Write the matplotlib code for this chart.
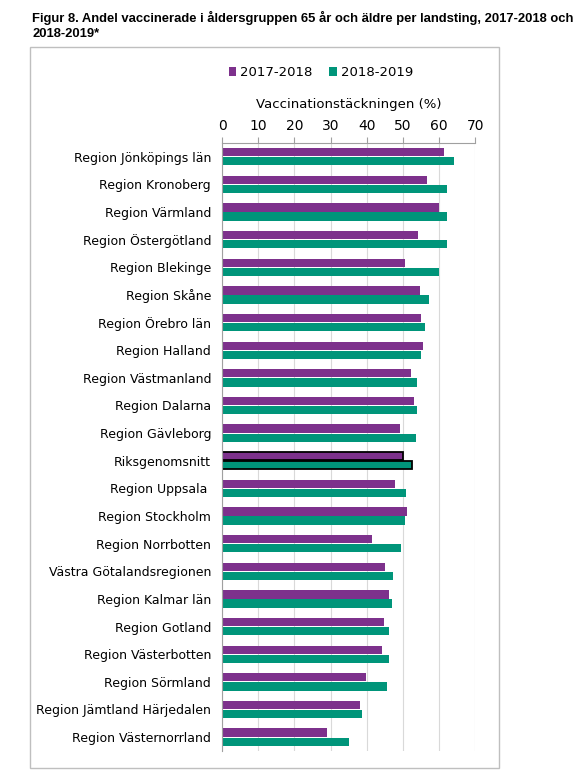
import matplotlib.pyplot as plt
from matplotlib.patches import Rectangle
import numpy as np

# Data (top to bottom)
regions = [
    'Region Jönköpings län', 'Region Kronoberg', 'Region Värmland',
    'Region Östergötland', 'Region Blekinge', 'Region Skåne',
    'Region Örebro län', 'Region Halland', 'Region Västmanland',
    'Region Dalarna', 'Region Gävleborg', 'Riksgenomsnitt',
    'Region Uppsala ', 'Region Stockholm', 'Region Norrbotten',
    'Västra Götalandsregionen', 'Region Kalmar län', 'Region Gotland',
    'Region Västerbotten', 'Region Sörmland', 'Region Jämtland Härjedalen',
    'Region Västernorrland',
]
season_2017 = [61.4, 56.7, 60.1, 54.2, 50.6, 54.8, 55.0, 55.6, 52.2, 53.0, 49.2,
               50.0, 47.9, 51.2, 41.4, 45.1, 46.3, 44.8, 44.1, 39.8, 38.2, 29.0]
season_2018 = [64.1, 62.1, 62.1, 62.1, 60.1, 57.2, 56.0, 55.0, 54.0, 53.8, 53.6,
               52.4, 50.9, 50.6, 49.5, 47.3, 47.1, 46.3, 46.3, 45.6, 38.8, 35.0]
labels = ['2017-2018', '2018-2019']
x_ticks = [0, 10, 20, 30, 40, 50, 60, 70]

purple = '#7D318C'
green = '#00957A'

fig = plt.figure(figsize=(5.83, 7.71), dpi=100)
ax = fig.add_axes([0.381, 0.026, 0.434, 0.7886])

y = np.arange(len(regions))
h = 0.3
bars1 = ax.barh(y - 0.165, season_2017, height=h, color=purple, label=labels[0])
bars2 = ax.barh(y + 0.165, season_2018, height=h, color=green, label=labels[1])

# highlight the national average
avg = regions.index('Riksgenomsnitt')
for b in (bars1[avg], bars2[avg]):
    b.set_edgecolor('black')
    b.set_linewidth(1.3)

ax.set_ylim(len(regions) - 0.5, -0.5)
ax.set_xlim(0, 70)
ax.set_xticks(x_ticks)
ax.set_yticks(y)
ax.set_yticklabels(regions, fontsize=9)
ax.xaxis.tick_top()
ax.xaxis.set_label_position('top')
ax.set_xlabel('Vaccinationstäckningen (%)', fontsize=9.5, labelpad=8)
ax.tick_params(axis='x', labelsize=10, color='#A0A0A0', length=4, pad=3)
ax.tick_params(axis='y', length=0, pad=8)
ax.grid(axis='x', color='#D9D9D9', linewidth=0.8)
ax.set_axisbelow(True)
for s in ['right', 'bottom']:
    ax.spines[s].set_visible(False)
for s in ['top', 'left']:
    ax.spines[s].set_color('#A0A0A0')
    ax.spines[s].set_linewidth(0.8)

fig.legend(loc='center', bbox_to_anchor=(0.55, 0.906), ncol=2, frameon=False,
           fontsize=9.5, handlelength=0.6, handleheight=0.6, handletextpad=0.3,
           columnspacing=1.2)

# frame around the chart
fig.patches.append(Rectangle((0.0515, 0.004), 0.805, 0.935, transform=fig.transFigure,
                             fill=False, edgecolor='#BFBFBF', linewidth=1))

fig.text(0.055, 0.986,
         'Figur 8. Andel vaccinerade i åldersgruppen 65 år och äldre per landsting, 2017-2018 och\n2018-2019*',
         fontsize=9.4, fontweight='bold', family='Liberation Sans', va='top', ha='left',
         linespacing=1.3)

fig.savefig('out.png', dpi=100)
